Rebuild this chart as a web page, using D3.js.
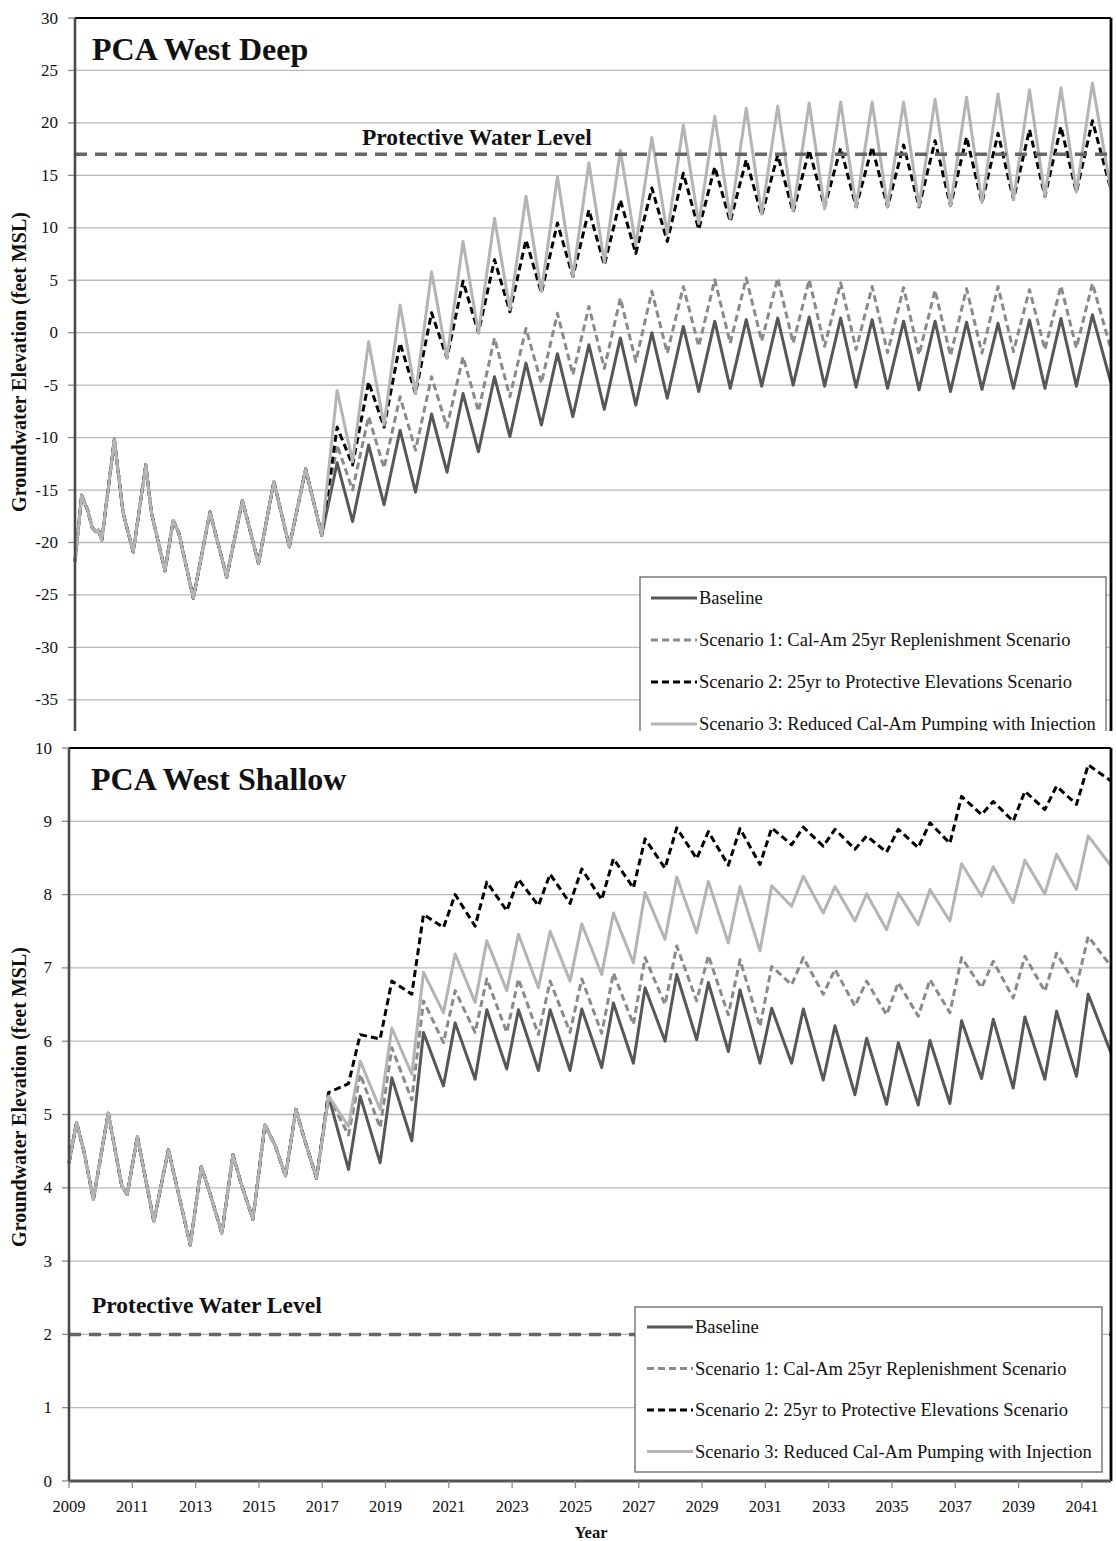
<!DOCTYPE html>
<html>
<head>
    <meta http-equiv="Content-Type" content="text/html" charset="UTF-8">
    <title>PCA West groundwater elevations</title>
    <script src="https://cdn.jsdelivr.net/npm/d3@7/dist/d3.min.js"></script>
    <style>
        body { margin: 0; background: #fff; }
        svg text { font-family: "Liberation Serif", "Times New Roman", serif; fill: #111; }
    </style>
</head>
<body>
<svg id="chart" width="1116" height="1541"></svg>
<script>

    // ---- shared categories / labels ----
    var seriesNames = [
        "Baseline",
        "Scenario 1: Cal-Am 25yr Replenishment Scenario",
        "Scenario 2: 25yr to Protective Elevations Scenario",
        "Scenario 3: Reduced Cal-Am Pumping with Injection"
    ];
    var projYears = [2017, 2018, 2019, 2020, 2021, 2022, 2023, 2024, 2025, 2026, 2027, 2028, 2029,
        2030, 2031, 2032, 2033, 2034, 2035, 2036, 2037, 2038, 2039, 2040, 2041];
    var xTickYears = [2009, 2011, 2013, 2015, 2017, 2019, 2021, 2023, 2025, 2027, 2029, 2031, 2033,
        2035, 2037, 2039, 2041];
    var deepTicks = [-35, -30, -25, -20, -15, -10, -5, 0, 5, 10, 15, 20, 25, 30];
    var shallowTicks = [0, 1, 2, 3, 4, 5, 6, 7, 8, 9, 10];

    // ---- PCA West Deep (feet MSL) ----
    // history shared by all series (time in decimal years)
    var deepHistT = [2009.0, 2009.21, 2009.4, 2009.55, 2009.68, 2009.75, 2009.85, 2010.25, 2010.53, 2010.85,
        2011.25, 2011.43, 2011.86, 2012.12, 2012.3, 2012.76, 2013.29, 2013.82, 2014.32, 2014.83,
        2015.32, 2015.81, 2016.33, 2016.84];
    var deepHistV = [-21.8, -15.5, -16.9, -18.6, -19.0, -18.8, -19.8, -10.2, -17.2, -20.9,
        -12.6, -17.2, -22.7, -17.9, -19.1, -25.3, -17.1, -23.3, -16.0, -22.0,
        -14.2, -20.4, -13.0, -19.3];
    // yearly spring highs and fall lows, 2017-2041
    var deepBasePeak = [-12.4, -10.7, -9.3, -7.75, -5.8, -4.2, -2.9, -2.0, -1.15, -0.5, 0.0, 0.6, 1.1,
        1.25, 1.4, 1.5, 1.4, 1.25, 1.1, 1.1, 1.0, 0.9, 1.2, 1.35, 1.7];
    var deepBaseLow = [-18.0, -16.4, -15.2, -13.3, -11.35, -9.9, -8.8, -8.0, -7.3, -6.9, -6.25, -5.6,
        -5.3, -5.1, -5.0, -5.1, -5.2, -5.3, -5.45, -5.6, -5.4, -5.3, -5.3, -5.1];
    var deepS1Peak = [-10.7, -8.0, -6.1, -4.2, -2.3, -0.5, 0.4, 1.85, 2.5, 3.3, 3.95, 4.4, 5.05,
        5.2, 5.2, 5.05, 4.75, 4.4, 4.3, 4.05, 4.2, 4.4, 4.1, 4.45, 4.7];
    var deepS1Low = [-15.0, -12.9, -11.2, -9.0, -7.5, -6.1, -4.8, -4.0, -3.4, -2.75, -1.95, -1.3,
        -1.0, -0.8, -1.0, -1.3, -1.6, -1.9, -2.1, -2.2, -1.95, -1.8, -1.6, -1.45];
    var deepS2Peak = [-9.0, -4.7, -1.0, 1.9, 4.9, 6.95, 8.85, 10.45, 11.7, 12.65, 13.8, 15.2, 15.8,
        16.5, 16.95, 17.4, 17.6, 17.7, 17.9, 18.3, 18.65, 19.0, 19.35, 19.65, 20.2];
    var deepS2Low = [-12.6, -9.0, -5.8, -2.4, 0.0, 2.0, 3.8, 5.35, 6.45, 7.55, 8.7, 9.85,
        10.6, 11.2, 11.5, 12.0, 12.0, 12.0, 12.0, 12.1, 12.4, 12.7, 13.0, 13.4];
    var deepS3Peak = [-5.5, -0.85, 2.65, 5.8, 8.7, 10.9, 13.0, 14.9, 16.2, 17.4, 18.6, 19.8, 20.6,
        21.4, 21.6, 21.9, 22.0, 22.0, 22.0, 22.25, 22.45, 22.75, 23.15, 23.35, 23.8];
    var deepS3Low = [-12.3, -8.8, -5.8, -2.4, 0.0, 2.2, 3.9, 5.35, 6.7, 8.3, 9.4, 10.4,
        10.9, 11.3, 11.6, 11.8, 12.0, 12.0, 12.05, 12.1, 12.4, 12.7, 13.0, 13.4];
    var deepEnd = [-4.8, -1.6, 13.6, 13.5];
    var deepProtective = 17;

    // ---- PCA West Shallow (feet MSL) ----
    var shallowHistT = [2009.0, 2009.24, 2009.48, 2009.77, 2010.24, 2010.67, 2010.84, 2011.16, 2011.68,
        2012.14, 2012.83, 2013.18, 2013.45, 2013.83, 2014.18, 2014.43, 2014.81, 2015.19,
        2015.52, 2015.84, 2016.17, 2016.44, 2016.82];
    var shallowHistV = [4.34, 4.89, 4.48, 3.84, 5.02, 4.02, 3.91, 4.70, 3.54,
        4.52, 3.22, 4.29, 3.93, 3.38, 4.45, 4.07, 3.57, 4.86,
        4.57, 4.16, 5.07, 4.66, 4.13];
    var shallowBasePeak = [5.25, 5.25, 5.5, 6.12, 6.25, 6.43, 6.43, 6.43, 6.44, 6.52, 6.73, 6.91, 6.80,
        6.70, 6.45, 6.44, 6.21, 6.04, 5.98, 6.01, 6.28, 6.30, 6.33, 6.41, 6.64];
    var shallowBaseLow = [4.25, 4.34, 4.64, 5.39, 5.48, 5.62, 5.6, 5.6, 5.64, 5.70, 6.0, 6.02,
        5.86, 5.70, 5.70, 5.47, 5.27, 5.14, 5.13, 5.15, 5.49, 5.36, 5.48, 5.52];
    var shallowS1Peak = [5.25, 5.55, 5.91, 6.55, 6.69, 6.85, 6.85, 6.82, 6.85, 6.93, 7.14, 7.30, 7.17,
        7.11, 7.02, 7.14, 6.98, 6.82, 6.8, 6.84, 7.14, 7.09, 7.16, 7.2, 7.43];
    var shallowS1Low = [4.72, 4.82, 5.2, 5.98, 6.12, 6.12, 6.09, 6.12, 6.11, 6.23, 6.5, 6.55,
        6.36, 6.2, 6.77, 6.64, 6.48, 6.36, 6.34, 6.39, 6.73, 6.59, 6.68, 6.75];
    var shallowS2Peak = [5.3, 6.09, 6.82, 7.73, 8.0, 8.17, 8.21, 8.28, 8.35, 8.49, 8.76, 8.91, 8.86,
        8.9, 8.91, 8.92, 8.89, 8.8, 8.89, 8.98, 9.34, 9.27, 9.41, 9.48, 9.77];
    var shallowS2Low = [5.42, 6.03, 6.64, 7.55, 7.57, 7.78, 7.85, 7.88, 7.93, 8.09, 8.36, 8.49,
        8.40, 8.41, 8.68, 8.66, 8.62, 8.58, 8.64, 8.70, 9.09, 9.0, 9.16, 9.23];
    var shallowS3Peak = [5.25, 5.73, 6.18, 6.94, 7.19, 7.37, 7.46, 7.5, 7.6, 7.75, 8.03, 8.24, 8.18,
        8.11, 8.12, 8.25, 8.11, 8.01, 8.02, 8.07, 8.42, 8.38, 8.47, 8.55, 8.8];
    var shallowS3Low = [4.84, 5.07, 5.55, 6.39, 6.53, 6.69, 6.73, 6.82, 6.91, 7.07, 7.39, 7.48,
        7.34, 7.23, 7.84, 7.75, 7.64, 7.52, 7.59, 7.64, 7.98, 7.89, 8.01, 8.07];
    var shallowEnd = [5.84, 7.02, 9.55, 8.39];
    var shallowProtective = 2;

    var lastT = 2041.92;

    // line look for each series, in legend order (later ones drawn on top)
    var seriesStyle = [
        {color: "#575757", dash: null},
        {color: "#8a8a8a", dash: "7,4"},
        {color: "#000000", dash: "7,4"},
        {color: "#b4b4b4", dash: null}
    ];

    // history + yearly high/low points
    function buildSeries(histT, histV, peaks, lows, endV, peakPhase, lowPhase) {
        var pts = histT.map(function (t, i) { return {t: t, v: histV[i]}; });
        projYears.forEach(function (y, i) {
            pts.push({t: y + peakPhase, v: peaks[i]});
            if (i < lows.length) pts.push({t: y + lowPhase, v: lows[i]});
        });
        pts.push({t: lastT, v: endV});
        return pts;
    }

    var deepSeries = [
        buildSeries(deepHistT, deepHistV, deepBasePeak, deepBaseLow, deepEnd[0], 0.33, 0.82),
        buildSeries(deepHistT, deepHistV, deepS1Peak, deepS1Low, deepEnd[1], 0.33, 0.82),
        buildSeries(deepHistT, deepHistV, deepS2Peak, deepS2Low, deepEnd[2], 0.33, 0.82),
        buildSeries(deepHistT, deepHistV, deepS3Peak, deepS3Low, deepEnd[3], 0.33, 0.82)
    ];
    var shallowSeries = [
        buildSeries(shallowHistT, shallowHistV, shallowBasePeak, shallowBaseLow, shallowEnd[0], 0.2, 0.83),
        buildSeries(shallowHistT, shallowHistV, shallowS1Peak, shallowS1Low, shallowEnd[1], 0.2, 0.83),
        buildSeries(shallowHistT, shallowHistV, shallowS2Peak, shallowS2Low, shallowEnd[2], 0.2, 0.83),
        buildSeries(shallowHistT, shallowHistV, shallowS3Peak, shallowS3Low, shallowEnd[3], 0.2, 0.83)
    ];

    var svg = d3.select("#chart");
    svg.append("rect").attr("width", 1116).attr("height", 1541).attr("fill", "#fff");

    // top picture is cut off by the lower one
    svg.append("defs").append("clipPath").attr("id", "topClip")
        .append("rect").attr("x", 0).attr("y", 0).attr("width", 1116).attr("height", 731);

    function drawPanel(g, cfg) {
        var x = cfg.x, y = cfg.y;
        var left = x.range()[0], right = x.range()[1];
        var top = y.range()[1], bottom = y.range()[0];

        // gridlines
        g.selectAll(".grid").data(cfg.grid)
            .enter().append("line")
            .attr("x1", left).attr("x2", right)
            .attr("y1", function (d) { return y(d); }).attr("y2", function (d) { return y(d); })
            .attr("stroke", "#b9b9b9").attr("stroke-width", 1.3);

        // y tick marks and labels
        g.selectAll(".ytick").data(cfg.ticks).enter().append("line")
            .attr("x1", left - 7).attr("x2", left)
            .attr("y1", function (d) { return y(d); }).attr("y2", function (d) { return y(d); })
            .attr("stroke", "#8a8a8a").attr("stroke-width", 1.3);
        g.selectAll(".ylab").data(cfg.ticks).enter().append("text")
            .attr("x", cfg.labelX).attr("y", function (d) { return y(d); })
            .attr("text-anchor", "end").attr("dominant-baseline", "central")
            .attr("font-size", 17).text(function (d) { return String(d); });

        // series
        var line = d3.line()
            .x(function (d) { return x(d.t); })
            .y(function (d) { return y(d.v); });
        cfg.series.forEach(function (s, i) {
            g.append("path").datum(s)
                .attr("d", line)
                .attr("fill", "none")
                .attr("stroke", seriesStyle[i].color)
                .attr("stroke-width", 3)
                .attr("stroke-linejoin", "round")
                .attr("stroke-dasharray", seriesStyle[i].dash);
        });

        // protective water level
        g.append("line")
            .attr("x1", left).attr("x2", right)
            .attr("y1", y(cfg.protective)).attr("y2", y(cfg.protective))
            .attr("stroke", "#666").attr("stroke-width", 3.5).attr("stroke-dasharray", "12,8");
        g.append("text")
            .attr("x", cfg.protLabel[0]).attr("y", cfg.protLabel[1])
            .attr("font-size", 23.5).attr("font-weight", "bold")
            .text("Protective Water Level");

        // legend
        var lg = g.append("g");
        lg.append("rect")
            .attr("x", cfg.legend.x).attr("y", cfg.legend.y)
            .attr("width", cfg.legend.w).attr("height", cfg.legend.h)
            .attr("fill", "#fff").attr("stroke", "#666").attr("stroke-width", 1.3);
        seriesNames.forEach(function (name, i) {
            var ry = cfg.legend.row0 + i * cfg.legend.step;
            lg.append("line")
                .attr("x1", cfg.legend.lx).attr("x2", cfg.legend.lx + 46)
                .attr("y1", ry).attr("y2", ry)
                .attr("stroke", seriesStyle[i].color).attr("stroke-width", 3)
                .attr("stroke-dasharray", seriesStyle[i].dash);
            lg.append("text")
                .attr("x", cfg.legend.lx + 48).attr("y", ry)
                .attr("dominant-baseline", "central")
                .attr("font-size", 18.5).text(name);
        });

        // frame
        g.append("line").attr("x1", left).attr("x2", right).attr("y1", top).attr("y2", top)
            .attr("stroke", "#000").attr("stroke-width", 2.2);
        g.append("line").attr("x1", right).attr("x2", right).attr("y1", top).attr("y2", bottom)
            .attr("stroke", "#000").attr("stroke-width", 2.8);
        g.append("line").attr("x1", left).attr("x2", left).attr("y1", top).attr("y2", bottom)
            .attr("stroke", "#4a4a4a").attr("stroke-width", 2.6);

        // title and y axis title
        g.append("text")
            .attr("x", cfg.titlePos[0]).attr("y", cfg.titlePos[1])
            .attr("font-size", 32).attr("font-weight", "bold")
            .text(cfg.title);
        g.append("text")
            .attr("transform", "translate(19," + cfg.yTitleY + ") rotate(-90)")
            .attr("text-anchor", "middle").attr("dominant-baseline", "central")
            .attr("font-size", 20).attr("font-weight", "bold")
            .text("Groundwater Elevation (feet MSL)");
    }

    // ---- top panel ----
    var topG = svg.append("g").attr("clip-path", "url(#topClip)");
    drawPanel(topG, {
        x: d3.scaleLinear().domain([2009, lastT]).range([75, 1111]),
        y: d3.scaleLinear().domain([-40, 30]).range([752.3, 18]),
        ticks: deepTicks,
        grid: [-35, -30, -25, -20, -15, -10, -5, 0, 5, 10, 15, 20, 25],
        labelX: 58,
        series: deepSeries,
        protective: deepProtective,
        protLabel: [362, 145],
        legend: {x: 640, y: 577, w: 466, h: 180, row0: 598, step: 42, lx: 651},
        title: "PCA West Deep",
        titlePos: [92, 60],
        yTitleY: 362
    });

    // ---- bottom panel ----
    var botX = d3.scaleLinear().domain([2009, lastT]).range([69, 1111]);
    var botY = d3.scaleLinear().domain([0, 10]).range([1481, 748]);
    var botG = svg.append("g");
    drawPanel(botG, {
        x: botX,
        y: botY,
        ticks: shallowTicks,
        grid: [1, 2, 3, 4, 5, 6, 7, 8, 9],
        labelX: 52,
        series: shallowSeries,
        protective: shallowProtective,
        protLabel: [92, 1313],
        legend: {x: 635, y: 1307, w: 467, h: 165, row0: 1327, step: 41.5, lx: 647},
        title: "PCA West Shallow",
        titlePos: [91, 790],
        yTitleY: 1097
    });

    // x axis of the lower panel
    botG.append("line").attr("x1", 69).attr("x2", 1111).attr("y1", 1481).attr("y2", 1481)
        .attr("stroke", "#555").attr("stroke-width", 3);
    botG.selectAll(".xtick").data(xTickYears).enter().append("line")
        .attr("x1", function (d) { return botX(d); }).attr("x2", function (d) { return botX(d); })
        .attr("y1", 1481).attr("y2", 1488)
        .attr("stroke", "#8a8a8a").attr("stroke-width", 1.3);
    botG.selectAll(".xlab").data(xTickYears).enter().append("text")
        .attr("x", function (d) { return botX(d); }).attr("y", 1506)
        .attr("text-anchor", "middle").attr("dominant-baseline", "central")
        .attr("font-size", 16.5).text(function (d) { return String(d); });
    botG.append("text")
        .attr("x", 591).attr("y", 1532)
        .attr("text-anchor", "middle").attr("dominant-baseline", "central")
        .attr("font-size", 16.5).attr("font-weight", "bold")
        .text("Year");

</script>
</body>
</html>
